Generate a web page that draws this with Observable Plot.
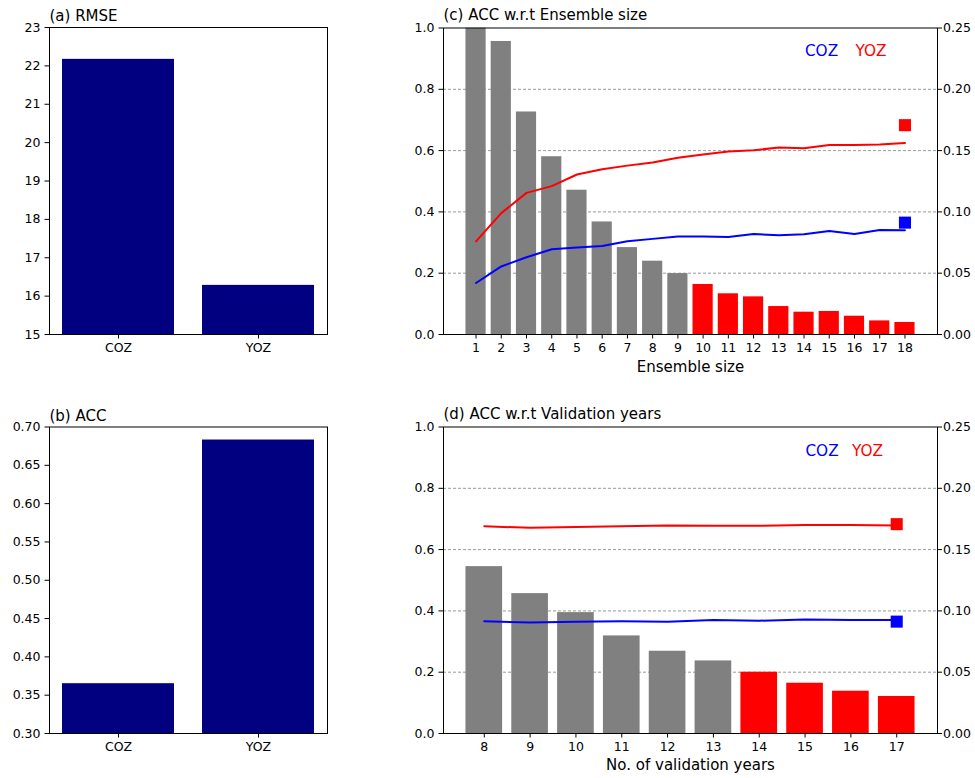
<!DOCTYPE html>
<html><head><meta charset="utf-8">
<script src="https://cdn.jsdelivr.net/npm/d3@7"></script>
<script src="https://cdn.jsdelivr.net/npm/@observablehq/plot@0.6"></script>
<style>
body{margin:0;background:#fff;}
#root{position:relative;width:975px;height:778px;overflow:hidden;font-family:"DejaVu Sans",sans-serif;}
#root svg{position:absolute;overflow:visible;}
</style></head><body><div id="root"></div>
<script>
// ---- data ----
const models = ["COZ", "YOZ"];
const rmseValues = [22.17, 16.28];
const accValues = [0.365, 0.683];

const ensembleSizes = [1,2,3,4,5,6,7,8,9,10,11,12,13,14,15,16,17,18];
const ensembleBars = [0.25,0.239,0.1815,0.145,0.1177,0.0918,0.0709,0.0598,0.0497,0.0408,0.0332,0.0307,0.0228,0.0182,0.0188,0.0149,0.0111,0.0098];
const ensembleCOZ = [0.168,0.222,0.252,0.278,0.284,0.289,0.304,0.312,0.320,0.320,0.318,0.328,0.324,0.327,0.338,0.328,0.341,0.340];
const ensembleYOZ = [0.304,0.396,0.462,0.484,0.522,0.539,0.551,0.561,0.577,0.587,0.597,0.601,0.610,0.608,0.618,0.618,0.620,0.625];
const ensembleCutoff = 10;

const validationYears = [8,9,10,11,12,13,14,15,16,17];
const validationBars = [0.1361,0.1141,0.0986,0.0796,0.0671,0.0592,0.0500,0.0410,0.0345,0.0302];
const validationCOZ = [0.366,0.362,0.365,0.366,0.365,0.370,0.368,0.372,0.370,0.370];
const validationYOZ = [0.676,0.671,0.674,0.676,0.679,0.678,0.678,0.680,0.680,0.679];
const validationCutoff = 14;

const leftTicksAcc = [0,0.2,0.4,0.6,0.8,1.0];
const rightTicks = [0,0.05,0.1,0.15,0.2,0.25];

// ---- styles ----
const NAVY = "#000080", GRAY = "#808080", RED = "#ff0000", BLUE = "#0000ff";
const baseStyle = {fontFamily: "DejaVu Sans", fontSize: "12.5px", color: "#000", background: "transparent", overflow: "visible"};
const tick = {tickSize: 4.5, tickPadding: 4.5, label: null};
const root = document.getElementById("root");
function place(svg, left, top) { svg.style.left = left + "px"; svg.style.top = top + "px"; root.appendChild(svg); }
function titleMark(t, dy) {
  return Plot.text([t], {text: d => d, frameAnchor: "top-left", textAnchor: "start", lineAnchor: "middle", dy, fontSize: 15, fill: "#000"});
}

// ---- panels (a), (b) ----
function simpleBar(values, title, domain, ticks, fmt, height, mt, mb) {
  const data = models.map((m, i) => ({model: m, value: values[i]}));
  return Plot.plot({
    width: 380, height, marginLeft: 49, marginRight: 53, marginTop: mt, marginBottom: mb,
    style: baseStyle,
    x: {domain: models, paddingInner: 0.2, paddingOuter: 0.09, label: null},
    y: {domain, label: null},
    marks: [
      Plot.barY(data, {x: "model", y: "value", fill: NAVY, clip: true}),
      Plot.axisY({...tick, ticks, tickFormat: fmt}),
      Plot.axisX({...tick}),
      Plot.frame({stroke: "#000"}),
      titleMark(title, -11)
    ]
  });
}
place(simpleBar(rmseValues, "(a) RMSE", [15, 23], d3.range(15, 24), d => d, 390, 27, 56), 0, 0);
place(simpleBar(accValues, "(b) ACC", [0.3, 0.7], [0.3,0.35,0.4,0.45,0.5,0.55,0.6,0.65,0.7], d3.format(".2f"), 388, 36.5, 45), 0, 390);

// ---- panels (c), (d) ----
function dualPanel(xs, bars, coz, yoz, cutoff, xdomain, title, xlabel, height, mt, mb, top, leg) {
  const data = xs.map((x, i) => ({x, bar: bars[i], coz: coz[i], yoz: yoz[i]}));
  const last = xs[xs.length - 1];
  const squares = [{x: last, y: accValues[0], c: BLUE}, {x: last, y: accValues[1], c: RED}];
  const dims = {width: 595, height, marginLeft: 63, marginRight: 38, marginTop: mt, marginBottom: mb, style: baseStyle};
  const lower = Plot.plot({
    ...dims,
    x: {type: "linear", domain: xdomain, label: null},
    y: {domain: [0, 0.25], label: null},
    marks: [
      Plot.gridY({ticks: [0.05, 0.1, 0.15, 0.2], stroke: "#808080", strokeOpacity: 1, strokeWidth: 0.8, strokeDasharray: "3,2"}),
      Plot.rectY(data, {x1: d => d.x - 0.4, x2: d => d.x + 0.4, y: "bar", fill: d => d.x >= cutoff ? RED : GRAY, clip: true}),
      Plot.axisY({anchor: "right", ticks: rightTicks, tickFormat: d3.format(".2f"), tickSize: 4, tickPadding: 1.5, label: null}),
      Plot.axisX({...tick, ticks: xs, tickFormat: d => String(d)}),
      Plot.text([xlabel], {text: d => d, frameAnchor: "bottom", lineAnchor: "middle", dy: leg[3], fontSize: 15, fill: "#000"})
    ]
  });
  const upper = Plot.plot({
    ...dims,
    x: {type: "linear", domain: xdomain, axis: null},
    y: {domain: [0, 1], label: null},
    marks: [
      Plot.lineY(data, {x: "x", y: "coz", stroke: BLUE, strokeWidth: 2}),
      Plot.lineY(data, {x: "x", y: "yoz", stroke: RED, strokeWidth: 2}),
      Plot.dot(squares, {x: "x", y: "y", fill: "c", symbol: "square", r: 6.8}),
      Plot.axisY({...tick, anchor: "left", ticks: leftTicksAcc, tickFormat: d3.format(".1f")}),
      Plot.frame({stroke: "#000"}),
      titleMark(title, -13),
      Plot.text(["COZ"], {text: d => d, frameAnchor: "top-right", lineAnchor: "middle", dx: leg[0], dy: leg[2], fill: BLUE, fontSize: 15.3, textAnchor: "middle"}),
      Plot.text(["YOZ"], {text: d => d, frameAnchor: "top-right", lineAnchor: "middle", dx: leg[1], dy: leg[2], fill: RED, fontSize: 15.3, textAnchor: "middle"})
    ]
  });
  place(lower, 380, top);
  place(upper, 380, top);
}
dualPanel(ensembleSizes, ensembleBars, ensembleCOZ, ensembleYOZ, ensembleCutoff, [-0.29, 19.29],
  "(c) ACC w.r.t Ensemble size", "Ensemble size", 390, 27.5, 56, 0, [-116, -66.5, 23, 32.5]);
dualPanel(validationYears, validationBars, validationCOZ, validationYOZ, validationCutoff, [7.11, 17.89],
  "(d) ACC w.r.t Validation years", "No. of validation years", 388, 36.5, 45, 390, [-115.5, -70, 24.5, 31.5]);
</script></body></html>
